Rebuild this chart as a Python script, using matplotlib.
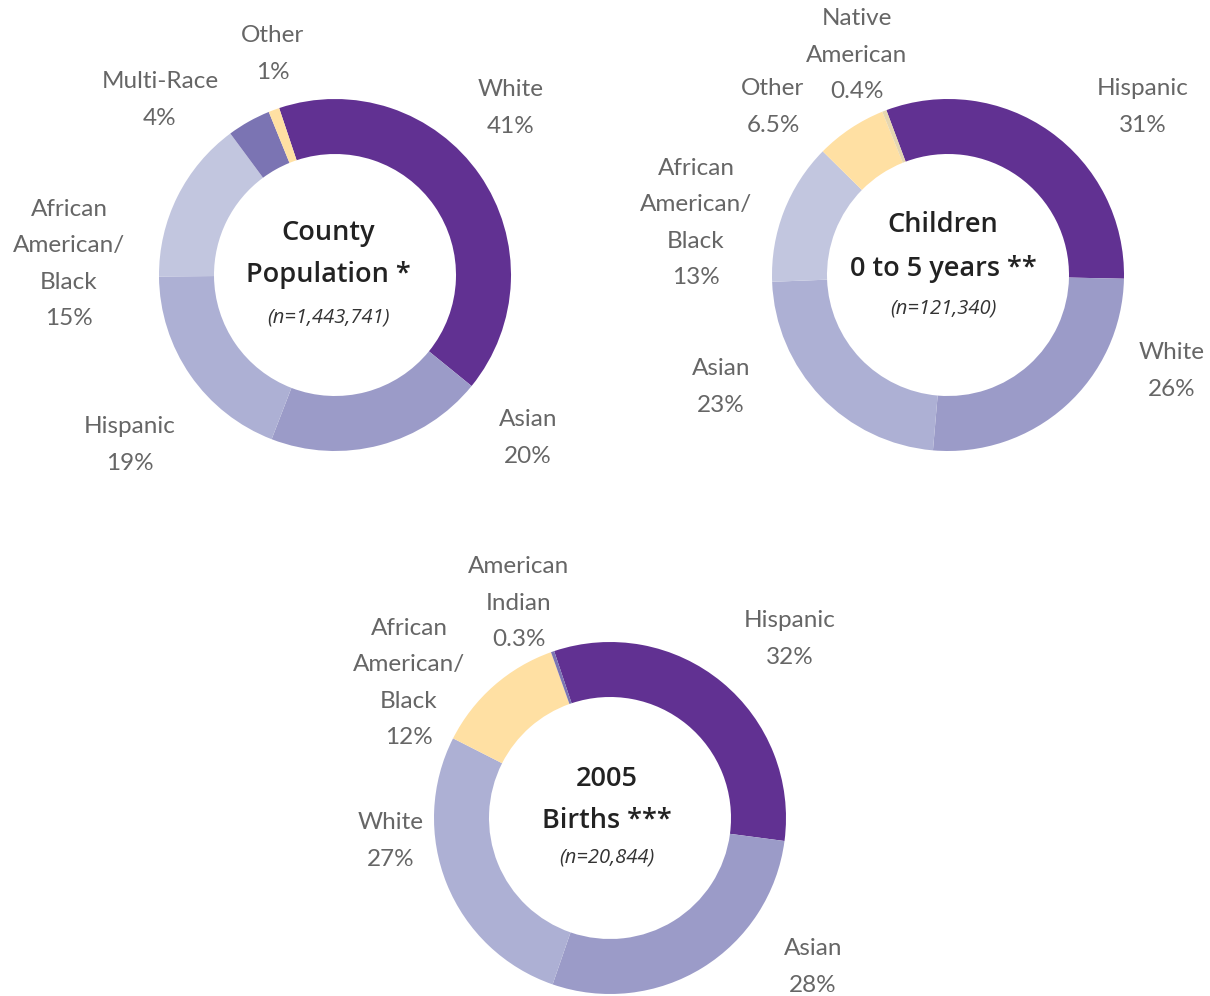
import matplotlib.pyplot as plt

# Data
county_labels = ['White', 'Asian', 'Hispanic', 'African\nAmerican/\nBlack', 'Multi-Race', 'Other']
county_values = [41, 20, 19, 15, 4, 1]

children_labels = ['Hispanic', 'White', 'Asian', 'African\nAmerican/\nBlack', 'Other', 'Native\nAmerican']
children_values = [31, 26, 23, 13, 6.5, 0.4]
children_pct = ['31%', '26%', '23%', '13%', '6.5%', '0.4%']

births_labels = ['Hispanic', 'Asian', 'White', 'African\nAmerican/\nBlack', 'American\nIndian']
births_values = [32, 28, 27, 12, 0.3]
births_pct = ['32%', '28%', '27%', '12%', '0.3%']

# Colours
dark = '#613192'
mid = '#9b9bc8'
light = '#adb0d4'
pale = '#c2c6df'
multi = '#7b74b3'
yellow = '#ffe0a3'
native = '#e6d6b0'

county_colors = [dark, mid, light, pale, multi, yellow]
children_colors = [dark, mid, light, pale, yellow, native]
births_colors = [dark, mid, light, yellow, multi]

W, H = 1210, 996
fig = plt.figure(figsize=(W / 100, H / 100), dpi=100)
ax = fig.add_axes([0, 0, 1, 1])

R = 176
ring = 55
label_color = '#666666'
label_font = 'Lato'


def donut(values, colors, cx, cy, start):
    ax.pie(values, colors=colors, center=(cx, H - cy), radius=R,
           startangle=start, counterclock=False,
           wedgeprops=dict(width=ring, linewidth=0))


def label(text, x, y):
    ax.text(x, H - y, text, ha='center', va='center', fontsize=17.5,
            color=label_color, family=label_font, linespacing=1.92)


def title(lines, sub, x, ys):
    for t, y in zip(lines, ys[:2]):
        ax.text(x, H - y, t, ha='center', va='center', fontsize=19.5,
                color='#222222', family='Open Sans', fontweight='semibold')
    ax.text(x, H - ys[2], sub, ha='center', va='center', fontsize=14.5,
            color='#333333', family='Open Sans', style='italic')


# County population
donut(county_values, county_colors, 335, 275, 108.5)
county_pos = [(511, 108), (528, 438), (130, 445), (69, 264), (160, 100), (273, 54)]
for lab, v, (x, y) in zip(county_labels, county_values, county_pos):
    label(f'{lab}\n{v}%', x, y)
title(['County', 'Population *'], '(n=1,443,741)', 328, [233, 275, 317])

# Children 0 to 5
donut(children_values, children_colors, 948, 275, 110.5)
children_pos = [(1143, 107), (1172, 371), (721, 387), (696, 223), (773, 107), (857, 55)]
for lab, p, (x, y) in zip(children_labels, children_pct, children_pos):
    label(f'{lab}\n{p}', x, y)
title(['Children', '0 to 5 years **'], '(n=121,340)', 943, [225, 269, 308])

# 2005 births
donut(births_values, births_colors, 610, 818, 108.5)
births_pos = [(790, 639), (813, 967), (391, 841), (409, 683), (519, 603)]
for lab, p, (x, y) in zip(births_labels, births_pct, births_pos):
    label(f'{lab}\n{p}', x, y)
title(['2005', 'Births ***'], '(n=20,844)', 607, [779, 821, 858])

ax.set_xlim(0, W)
ax.set_ylim(0, H)
ax.set_aspect('equal')
ax.axis('off')

plt.savefig('out.png', dpi=100)
